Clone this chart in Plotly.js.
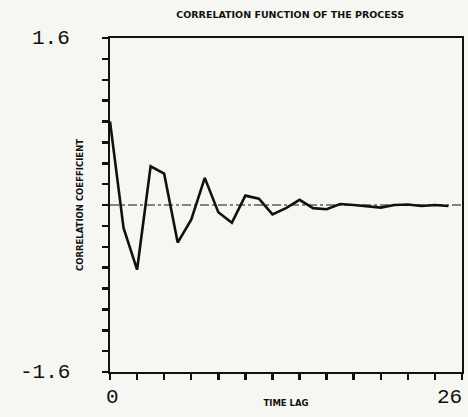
<!DOCTYPE html>
<html><head><meta charset="utf-8">
<script src="https://cdn.plot.ly/plotly-3.0.1.min.js"></script>
<style>html,body{margin:0;padding:0;background:#f6f6f3;}#c{width:468px;height:417px;}</style>
</head><body><div id="c"></div>
<script>
const lags = [0,1,2,3,4,5,6,7,8,9,10,11,12,13,14,15,16,17,18,19,20,21,22,23,24,25];
const corr = [0.80,-0.22,-0.62,0.37,0.30,-0.36,-0.14,0.26,-0.07,-0.17,0.09,0.06,-0.09,-0.03,0.05,-0.03,-0.04,0.01,0.0,-0.01,-0.025,0.0,0.005,-0.01,0.0,-0.01];
const refX = [0,26];
const refY = [0,0];
const yTickVals = [-1.6,-1.4,-1.2,-1.0,-0.8,-0.6,-0.4,-0.2,0,0.2,0.4,0.6,0.8,1.0,1.2,1.4,1.6];
const xTickVals = [0,2,4,6,8,10,12,14,16,18,20,22,24,26];
const yEndLabels = ['1.6','-1.6'];
const yEndVals = [1.6,-1.6];
const xEndLabels = ['0','26'];
const xEndVals = [0,26];

const numFont = {family:'Liberation Mono, Courier New, monospace', size:21, color:'#111'};
const annotations = [];
yEndVals.forEach((v,i)=>annotations.push({xref:'paper', yref:'y', x:-0.108, y:v, text:yEndLabels[i],
  showarrow:false, xanchor:'right', yanchor:'middle', font:numFont}));
xEndVals.forEach((v,i)=>annotations.push({xref:'x', yref:'paper', x:v, y:-0.035, text:xEndLabels[i],
  showarrow:false, xanchor:i===0?'center':'right', xshift:2, yanchor:'top', font:numFont}));

const data = [
  {x: refX, y: refY, mode:'lines', line:{color:'#111', width:1.2, dash:'dashdot'}, hoverinfo:'skip'},
  {x: lags, y: corr, mode:'lines', line:{color:'#111', width:2.6}}
];
const labFont = {family:'DejaVu Sans', size:8.5, color:'#111', weight:'bold'};
const layout = {
  width:468, height:417,
  paper_bgcolor:'#f6f6f3', plot_bgcolor:'#f6f6f3',
  margin:{l:110, r:6, t:38, b:45},
  showlegend:false,
  annotations: annotations,
  title:{text:'CORRELATION FUNCTION OF THE PROCESS', x:0.62, xanchor:'center', y:0.965, yanchor:'middle',
         font:{family:'DejaVu Sans', size:9.5, color:'#111', weight:'bold'}},
  xaxis:{range:[0,26], tickvals:xTickVals, showticklabels:false, ticks:'outside', ticklen:6, tickwidth:2.5, tickcolor:'#111',
         showline:true, linecolor:'#111', linewidth:2, mirror:true, showgrid:false, zeroline:false,
         title:{text:'TIME LAG', standoff:21, font:labFont}},
  yaxis:{range:[-1.6,1.6], tickvals:yTickVals, showticklabels:false, ticks:'outside', ticklen:6, tickwidth:2.5, tickcolor:'#111',
         showline:true, linecolor:'#111', linewidth:2, mirror:true, showgrid:false, zeroline:false,
         title:{text:'CORRELATION COEFFICIENT', standoff:17, font:labFont}}
};
Plotly.newPlot('c', data, layout, {staticPlot:true, displayModeBar:false});
</script></body></html>
